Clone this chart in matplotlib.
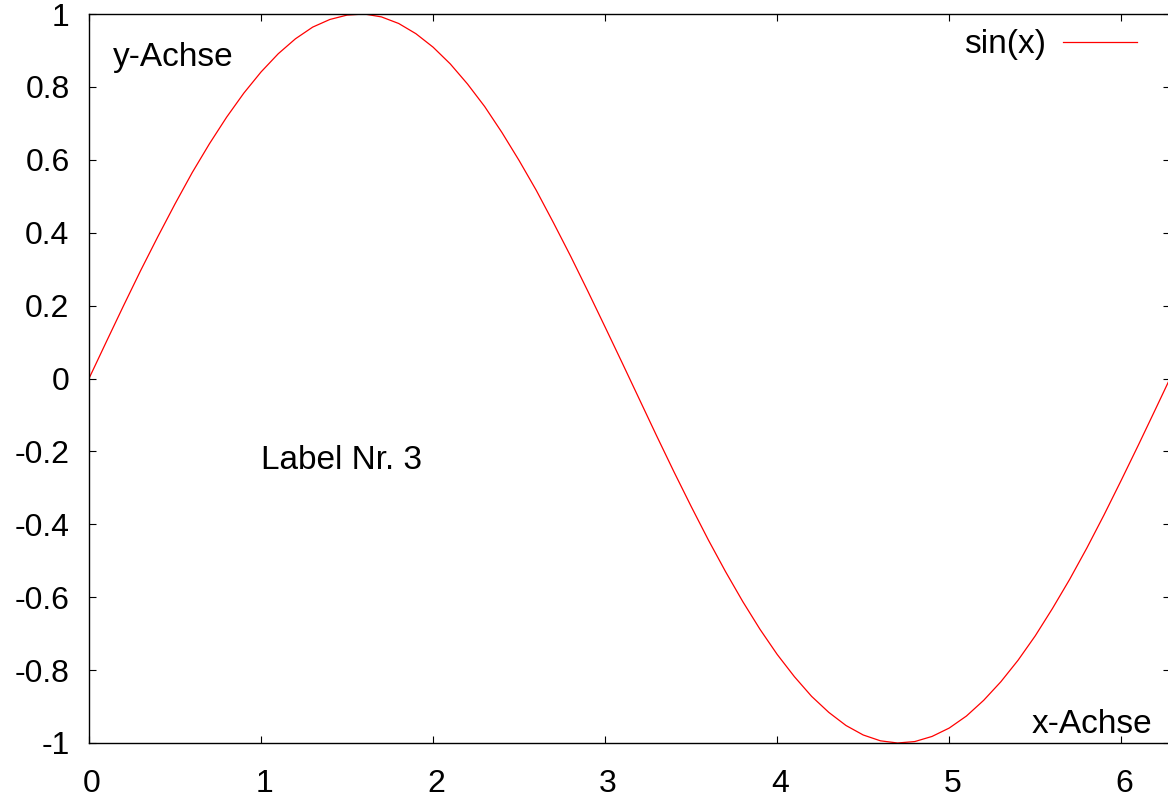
import matplotlib
matplotlib.use("Agg")
import matplotlib.pyplot as plt
from matplotlib.transforms import offset_copy

plt.rcParams['font.family'] = ['Liberation Sans', 'DejaVu Sans']
plt.rcParams['axes.unicode_minus'] = False

# Values (sin(x) curve)
x_vals = [0.0, 0.1, 0.2, 0.3, 0.4, 0.5, 0.6, 0.7, 0.8, 0.9,
          1.0, 1.1, 1.2, 1.3, 1.4, 1.5, 1.6, 1.7, 1.8, 1.9,
          2.0, 2.1, 2.2, 2.3, 2.4, 2.5, 2.6, 2.7, 2.8, 2.9,
          3.0, 3.1, 3.2, 3.3, 3.4, 3.5, 3.6, 3.7, 3.8, 3.9,
          4.0, 4.1, 4.2, 4.3, 4.4, 4.5, 4.6, 4.7, 4.8, 4.9,
          5.0, 5.1, 5.2, 5.3, 5.4, 5.5, 5.6, 5.7, 5.8, 5.9,
          6.0, 6.1, 6.2, 6.2832]
y_vals = [0.000, 0.100, 0.199, 0.296, 0.389, 0.479, 0.565, 0.644, 0.717, 0.783,
          0.841, 0.891, 0.932, 0.964, 0.985, 0.997, 1.000, 0.992, 0.974, 0.946,
          0.909, 0.863, 0.808, 0.746, 0.675, 0.598, 0.516, 0.427, 0.335, 0.239,
          0.141, 0.042, -0.058, -0.158, -0.256, -0.351, -0.443, -0.530, -0.612, -0.688,
          -0.757, -0.818, -0.872, -0.916, -0.952, -0.978, -0.994, -1.000, -0.996, -0.982,
          -0.959, -0.926, -0.883, -0.832, -0.773, -0.706, -0.631, -0.551, -0.465, -0.374,
          -0.279, -0.182, -0.083, 0.000]

x_ticks = [0, 1, 2, 3, 4, 5, 6]
x_tick_labels = ['0', '1', '2', '3', '4', '5', '6']
y_ticks = [-1, -0.8, -0.6, -0.4, -0.2, 0, 0.2, 0.4, 0.6, 0.8, 1]
y_tick_labels = ['-1', '-0.8', '-0.6', '-0.4', '-0.2', '0', '0.2', '0.4', '0.6', '0.8', '1']
series_label = 'sin(x)'

W, H = 1168, 800
fig = plt.figure(figsize=(W / 100, H / 100), dpi=100)
left_px, right_px, top_px, bottom_px = 89, 1170, 14, 743
ax = fig.add_axes([left_px / W, 1 - bottom_px / H,
                   (right_px - left_px) / W, (bottom_px - top_px) / H])

line, = ax.plot(x_vals, y_vals, color='#ff0000', lw=0.9, label=series_label)
ax.set_xlim(0, 6.2832)
ax.set_ylim(-1, 1)
ax.set_xticks(x_ticks)
ax.set_xticklabels(x_tick_labels)
ax.set_yticks(y_ticks)
ax.set_yticklabels(y_tick_labels)
ax.tick_params(direction='in', length=5, width=0.8, labelsize=23,
               top=True, right=True, colors='black')
ax.tick_params(axis='y', pad=14)
ax.tick_params(axis='x', pad=19)
for lbl in ax.get_xticklabels():
    lbl.set_transform(offset_copy(lbl.get_transform(), fig=fig, x=3, y=0, units='dots'))
for s in ax.spines.values():
    s.set_linewidth(1.0)
    s.set_color('black')

ax.text(0.14, 0.857, 'y-Achse', fontsize=24, ha='left', va='baseline')
ax.text(5.48, -0.973, 'x-Achse', fontsize=24, ha='left', va='baseline')
ax.text(1.0, -0.248, 'Label Nr. 3', fontsize=24, ha='left', va='baseline')

# Legend drawn gnuplot-style: text right-aligned, sample line to the right
leg = ax.legend(handles=[line], loc='upper right', frameon=False, fontsize=24,
                markerfirst=False, handlelength=2.2, handletextpad=0.52,
                borderaxespad=0.0,
                bbox_to_anchor=((1150 - left_px) / (right_px - left_px), 1.0 - 2 / (bottom_px - top_px)))

fig.savefig('out.png', dpi=100)
